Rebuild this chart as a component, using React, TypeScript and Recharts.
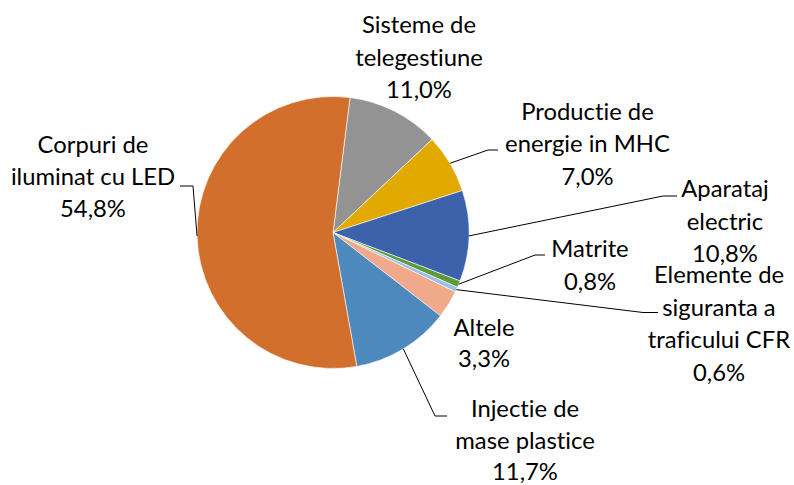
import React from "react";
import { PieChart, Pie, Cell } from "recharts";

const categories = [
  "Sisteme de telegestiune",
  "Productie de energie in MHC",
  "Aparataj electric",
  "Matrite",
  "Elemente de siguranta a traficului CFR",
  "Altele",
  "Injectie de mase plastice",
  "Corpuri de iluminat cu LED",
];

const values = [11.0, 7.0, 10.8, 0.8, 0.6, 3.3, 11.7, 54.8];

const labelLines = [
  ["Sisteme de", "telegestiune", "11,0%"],
  ["Productie de", "energie in MHC", "7,0%"],
  ["Aparataj", "electric", "10,8%"],
  ["Matrite", "0,8%"],
  ["Elemente de", "siguranta a", "traficului CFR", "0,6%"],
  ["Altele", "3,3%"],
  ["Injectie de", "mase plastice", "11,7%"],
  ["Corpuri de", "iluminat cu LED", "54,8%"],
];

const colors = [
  "#939393",
  "#E2A900",
  "#3C62AC",
  "#5C9B3B",
  "#9EBFE4",
  "#F1A98B",
  "#4E89BD",
  "#D36F2C",
];

// label layout: text center x, first baseline y, line pitch, leader elbow and end (null = no leader)
const labelLayout: {
  x: number;
  y: number;
  pitch: number;
  elbow: [number, number] | null;
  end: [number, number] | null;
}[] = [
  { x: 419, y: 33, pitch: 32.5, elbow: null, end: null },
  { x: 587.5, y: 119.5, pitch: 32.5, elbow: [488, 150], end: [498, 150] },
  { x: 725, y: 197, pitch: 32.5, elbow: [663, 196], end: [677, 196] },
  { x: 590, y: 257, pitch: 33, elbow: [535, 255], end: [545, 255] },
  { x: 719, y: 283, pitch: 32.5, elbow: [643, 312.5], end: [658, 312.5] },
  { x: 484, y: 336, pitch: 31, elbow: null, end: null },
  { x: 525, y: 417, pitch: 31.5, elbow: [435, 416], end: [447, 416] },
  { x: 93, y: 153, pitch: 32, elbow: [193, 186], end: [180, 186] },
];

const data = categories.map((name, i) => ({ name, value: values[i] }));

const RAD = Math.PI / 180;
const FONT = "Lato, 'Open Sans', sans-serif";

const renderLabel = (props: any) => {
  const { cx, cy, midAngle, outerRadius, index } = props;
  const lay = labelLayout[index];
  const lines = labelLines[index];
  const sx = cx + outerRadius * Math.cos(-midAngle * RAD);
  const sy = cy + outerRadius * Math.sin(-midAngle * RAD);
  return (
    <g key={`lbl-${index}`}>
      {lay.elbow && lay.end && (
        <polyline
          points={`${sx},${sy} ${lay.elbow[0]},${lay.elbow[1]} ${lay.end[0]},${lay.end[1]}`}
          fill="none"
          stroke="#000"
          strokeWidth={1}
        />
      )}
      <text
        x={lay.x}
        y={lay.y}
        textAnchor="middle"
        fill="#000"
        fontFamily={FONT}
        fontSize={23.8}
        style={{ fontVariantLigatures: "none", fontFeatureSettings: '"liga" 0, "clig" 0, "dlig" 0' }}
      >
        {lines.map((ln, j) => (
          <tspan key={j} x={lay.x} y={lay.y + j * lay.pitch}>
            {ln}
          </tspan>
        ))}
      </text>
    </g>
  );
};

export default function App() {
  return (
    <div style={{ position: "absolute", left: 0, top: 0, width: 794, height: 485, background: "#fff" }}>
      <PieChart width={794} height={485} margin={{ top: 0, right: 0, bottom: 0, left: 0 }}>
        <Pie
          data={data}
          dataKey="value"
          nameKey="name"
          cx={333}
          cy={232.5}
          outerRadius={136}
          startAngle={82.8}
          endAngle={-277.2}
          stroke="#ffffff"
          strokeWidth={0.6}
          label={renderLabel}
          labelLine={false}
          isAnimationActive={false}
        >
          {data.map((d, i) => (
            <Cell key={d.name} fill={colors[i]} />
          ))}
        </Pie>
      </PieChart>
    </div>
  );
}
